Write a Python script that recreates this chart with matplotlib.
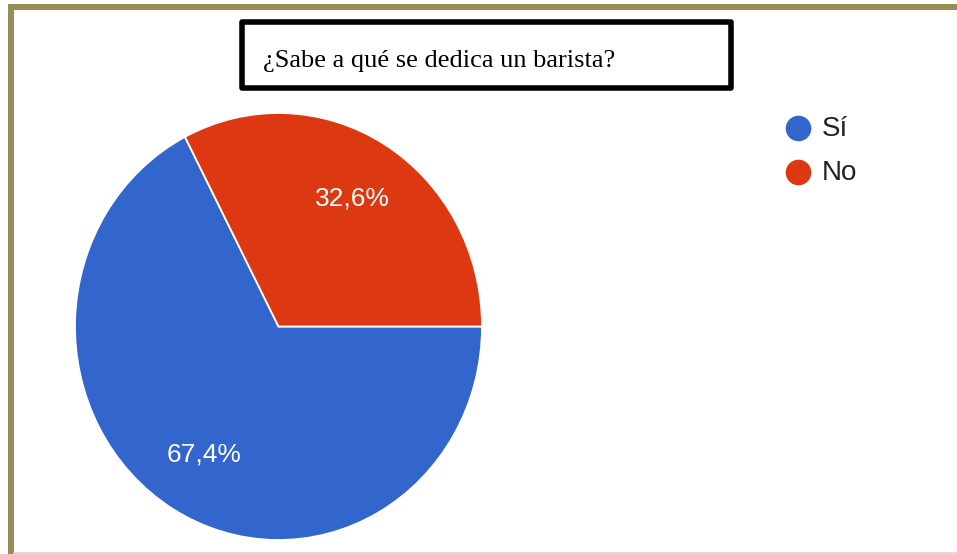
import matplotlib
matplotlib.use("Agg")
import matplotlib.pyplot as plt
from matplotlib.patches import Rectangle

# data
labels = ["Sí", "No"]
values = [67.4, 32.6]
colors = ["#3366cc", "#dc3912"]
title = "¿Sabe a qué se dedica un barista?"

W, H = 957, 554
fig = plt.figure(figsize=(W / 100, H / 100), dpi=100)
fig.patch.set_facecolor("white")

# overlay in pixel coordinates for frame, title box and legend
ov = fig.add_axes([0, 0, 1, 1])
ov.set_xlim(0, W)
ov.set_ylim(H, 0)
ov.axis("off")

olive = "#998c57"
ov.add_patch(Rectangle((8, 3.5), W - 8, 6, color=olive, lw=0))
ov.add_patch(Rectangle((7.5, 3.5), 6, H, color=olive, lw=0))
ov.plot([14, W], [552.5, 552.5], color="#d9d7c9", lw=1.2)

# title box
ov.add_patch(Rectangle((242, 22), 489, 66, facecolor="white", edgecolor="black",
                       lw=4.0, joinstyle="round"))
ov.text(263, 67, title, family="Liberation Serif", fontsize=19,
        va="baseline", ha="left", color="black")

# legend
for i, (lab, col) in enumerate(zip(labels, colors)):
    y = 128 + 44 * i
    ov.scatter([798], [y], s=340, color=col, lw=0)
    ov.text(822, y + 1, lab, family="Liberation Sans", fontsize=20,
            va="center", ha="left", color="#222222")

# pie (image is slightly stretched vertically, so aspect is left auto)
ax = fig.add_axes([75 / W, (H - 540) / H, 407 / W, 427 / H])
wedges, texts, autotexts = ax.pie(
    values, colors=colors, startangle=360 * values[1] / 100, counterclock=True,
    autopct=lambda p: f"{p:.1f}%".replace(".", ","), pctdistance=0.70,
    wedgeprops=dict(edgecolor="white", linewidth=1.3),
    textprops=dict(color="white", fontsize=19, family="Liberation Sans"),
)
ax.set_aspect("auto")
ax.set_xlim(-1, 1)
ax.set_ylim(-1, 1)

fig.savefig("out.png", dpi=100)
